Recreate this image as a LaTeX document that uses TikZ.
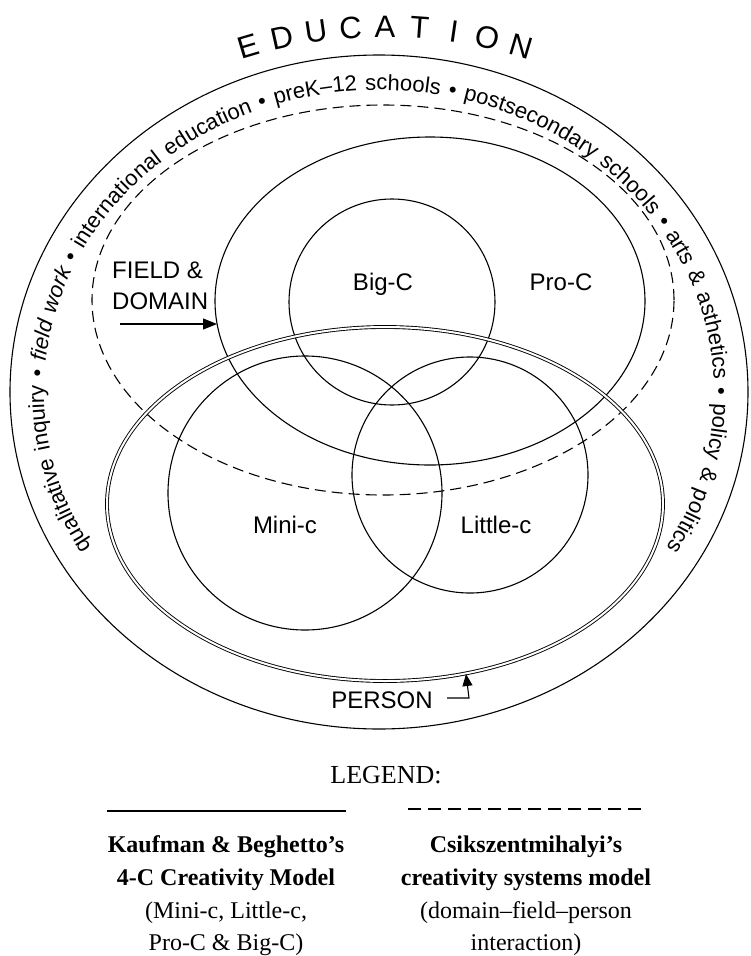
\documentclass[tikz,border=0pt]{standalone}
\usepackage{fontspec}
\setmainfont{Liberation Sans}
\newfontfamily\legendfont{Liberation Serif}
\usetikzlibrary{decorations.text,arrows.meta,calc}
\newcommand\bandfont{\fontsize{22}{26}\selectfont}
\begin{document}
\begin{tikzpicture}[x=1pt,y=1pt,
  solidline/.style={line width=1.1pt},
  dashline/.style={line width=1.1pt, dash pattern=on 11pt off 6pt},
  lbl/.style={font=\fontsize{24}{28}\selectfont, inner sep=0pt, anchor=base},
  edu/.style={font=\fontsize{31}{36}\selectfont, inner sep=0pt, anchor=base},
  legendtxt/.style={font=\legendfont\fontsize{24}{30}\selectfont, inner sep=0pt, anchor=base},
  pointer/.style={line width=1.1pt, -{Triangle[length=14pt,width=11pt]}}
]
\fill[white] (0,0) rectangle (751,-956);
\useasboundingbox (0,0) rectangle (751,-956);

% outer ellipse (education)
\draw[solidline] (379,-392) ellipse[x radius=369, y radius=337];
% field & domain (dashed)
\draw[dashline] (383,-300) ellipse[x radius=291, y radius=195];
% Pro-C
\draw[solidline] (430,-301) ellipse[x radius=215, y radius=164];
% Big-C
\draw[solidline] (392,-302) ellipse[x radius=103, y radius=103];
% Mini-c
\draw[solidline] (305,-493) ellipse[x radius=137, y radius=137];
% Little-c
\draw[solidline] (470,-475) ellipse[x radius=118, y radius=118];
% Person (double)
\draw[line width=0.9pt, double, double distance=2pt] (385,-504) ellipse[x radius=278, y radius=177];

% band text
\path[decorate, decoration={text along path,
  text align={fit to path stretching spaces},
  text={|\bandfont|qualitative inquiry • |\bandfont\itshape|field work|\bandfont| • international education • preK–12 schools • postsecondary schools • arts {\&} asthetics • policy {\&} politics}}]
  (379,-392) ++(211:335 and 302) arc[start angle=211, end angle=-31, x radius=335, y radius=302];

% EDUCATION
\foreach \ch [count=\i from 0] in {E,D,U,C,A,T,I,O,N} {
  \pgfmathsetmacro\ang{106.5-\i*4.125}
  \node[edu, rotate=\ang-90] (edu\i) at ($(385,-507)+(\ang:470)$) {\ch};
}

% labels
\node[lbl] (bigc) at (383,-290) {Big-C};
\node[lbl] (proc) at (561,-290) {Pro-C};
\node[lbl] (minic) at (285,-533) {Mini-c};
\node[lbl] (littlec) at (496,-533) {Little-c};
\node[lbl, anchor=base west] (field) at (112,-278) {FIELD \&};
\node[lbl, anchor=base west] (domain) at (112,-309) {DOMAIN};
\coordinate (fdstart) at (120,-324);
\coordinate (fdend) at (217,-324);
\draw[pointer] (fdstart) -- (fdend);

\node[lbl] (person) at (382,-708) {PERSON};
\coordinate (pstart) at (447,-698);
\coordinate (pcorner) at (469,-698);
\coordinate (pend) at (466,-674);
\draw[line width=1.1pt, -{Triangle[length=12pt,width=10pt]}] (pstart) -- (pcorner) -- (pend);

% legend
\node[legendtxt, font=\legendfont\fontsize{26}{30}\selectfont] (legend) at (386,-783) {LEGEND:};
\coordinate (ls1) at (107,-811);
\coordinate (ls2) at (346,-811);
\draw[line width=1.2pt] (ls1) -- (ls2);
\coordinate (ld1) at (408,-809);
\coordinate (ld2) at (648,-809);
\draw[line width=1.2pt, dash pattern=on 13pt off 7pt] (ld1) -- (ld2);

\node[legendtxt, font=\legendfont\bfseries\fontsize{24}{30}\selectfont] (k1) at (226,-852) {Kaufman \& Beghetto’s};
\node[legendtxt, font=\legendfont\bfseries\fontsize{24}{30}\selectfont] (k2) at (226,-885) {4-C Creativity Model};
\node[legendtxt] (k3) at (226,-918) {(Mini-c, Little-c,};
\node[legendtxt] (k4) at (226,-950) {Pro-C \& Big-C)};
\node[legendtxt, font=\legendfont\bfseries\fontsize{24}{30}\selectfont] (c1) at (526,-852) {Csikszentmihalyi’s};
\node[legendtxt, font=\legendfont\bfseries\fontsize{24}{30}\selectfont] (c2) at (526,-885) {creativity systems model};
\node[legendtxt] (c3) at (526,-918) {(domain–field–person};
\node[legendtxt] (c4) at (526,-950) {interaction)};
\end{tikzpicture}
\end{document}
